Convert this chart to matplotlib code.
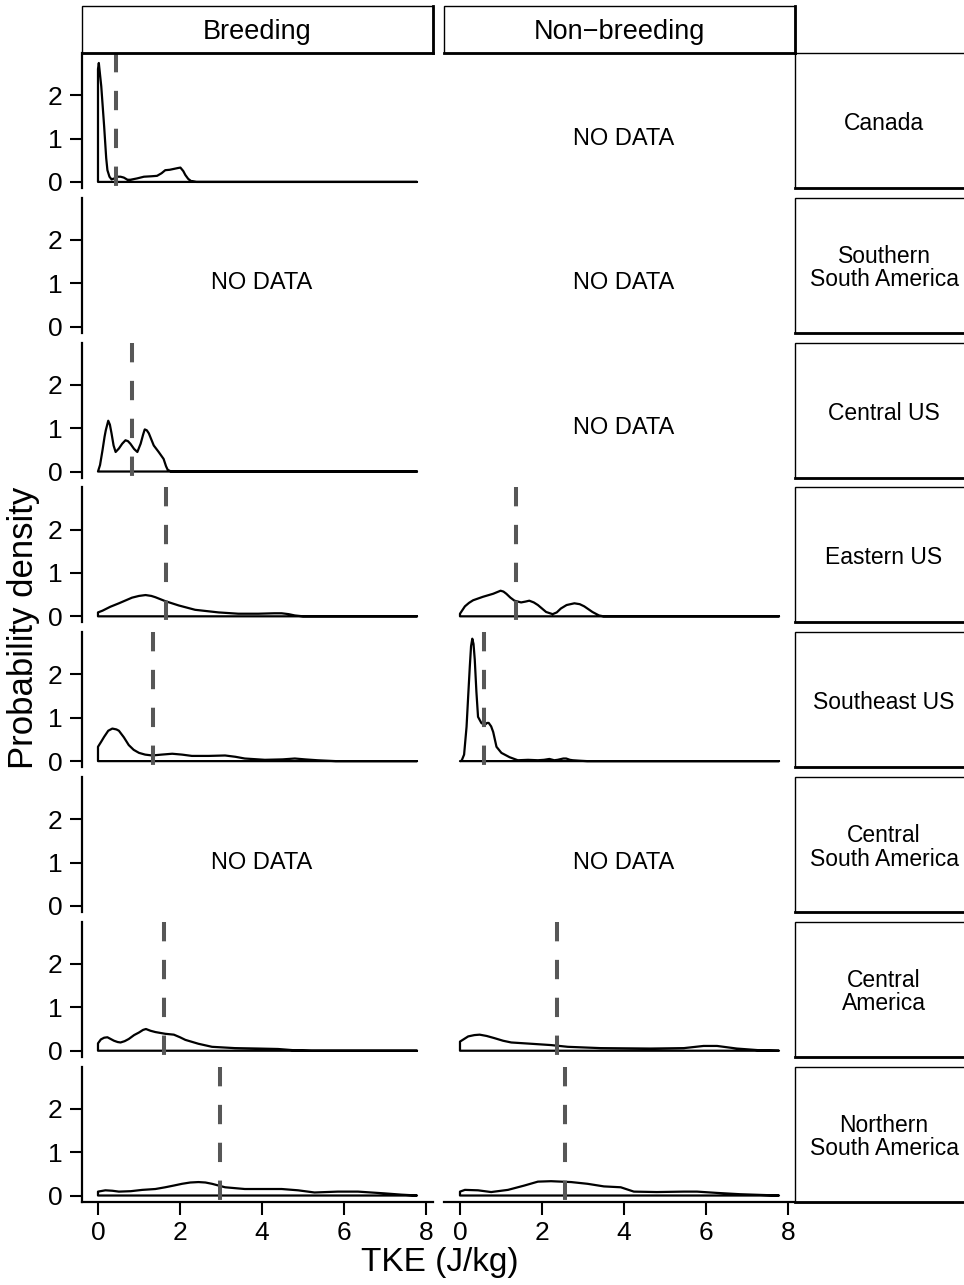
import matplotlib.pyplot as plt
from matplotlib.patches import Rectangle
from matplotlib.lines import Line2D

plt.rcParams['font.family'] = ['Liberation Sans', 'DejaVu Sans']

seasons = ['Breeding', 'Non\u2212breeding']
regions = ['Canada', 'Southern\nSouth America', 'Central US', 'Eastern US',
           'Southeast US', 'Central\nSouth America', 'Central\nAmerica',
           'Northern\nSouth America']

# kernel density outlines of TKE (J/kg), read per region and season
canada_b_x = [0, 0.02, 0.08, 0.15, 0.20, 0.23, 0.28, 0.33, 0.40, 0.47, 0.55, 0.63, 0.72, 0.79,
              0.95, 1.12, 1.30, 1.44, 1.55, 1.64, 1.75, 1.85, 1.95, 2.01, 2.08, 2.13, 2.20,
              2.27, 2.40, 7.78]
canada_b_y = [2.6, 2.74, 2.2, 1.28, 0.55, 0.27, 0.12, 0.06, 0.08, 0.12, 0.12, 0.10, 0.05, 0.05,
              0.08, 0.12, 0.13, 0.14, 0.20, 0.27, 0.28, 0.30, 0.32, 0.33, 0.25, 0.16, 0.07,
              0.02, 0.0, 0.0]

central_us_b_x = [0, 0.05, 0.11, 0.16, 0.19, 0.25, 0.29, 0.33, 0.38, 0.43, 0.51, 0.59, 0.67,
                  0.73, 0.79, 0.88, 0.96, 1.04, 1.10, 1.14, 1.19, 1.24, 1.36, 1.48, 1.60, 1.66,
                  1.70, 1.78, 7.78]
central_us_b_y = [0, 0.15, 0.49, 0.80, 0.95, 1.17, 1.08, 0.88, 0.60, 0.45, 0.53, 0.64, 0.72,
                  0.70, 0.64, 0.52, 0.45, 0.64, 0.85, 0.97, 0.95, 0.88, 0.60, 0.45, 0.29, 0.12,
                  0.04, 0.0, 0.0]

eastern_b_x = [0, 0.11, 0.30, 0.51, 0.83, 1.00, 1.16, 1.30, 1.40, 1.64, 1.97, 2.37, 2.94, 3.42,
               3.91, 4.30, 4.48, 4.65, 4.80, 5.00, 7.78]
eastern_b_y = [0.09, 0.13, 0.22, 0.30, 0.43, 0.47, 0.49, 0.47, 0.44, 0.35, 0.25, 0.15, 0.09, 0.06,
               0.06, 0.07, 0.07, 0.05, 0.02, 0.0, 0.0]

eastern_nb_x = [0, 0.12, 0.22, 0.32, 0.56, 0.81, 0.99, 1.06, 1.13, 1.23, 1.33, 1.49, 1.60, 1.69,
                1.80, 1.90, 2.10, 2.26, 2.36, 2.46, 2.60, 2.79, 2.92, 3.03, 3.23, 3.39, 3.50, 7.78]
eastern_nb_y = [0.06, 0.23, 0.31, 0.37, 0.45, 0.52, 0.59, 0.57, 0.52, 0.43, 0.36, 0.32, 0.34, 0.36,
                0.32, 0.26, 0.10, 0.05, 0.09, 0.18, 0.26, 0.30, 0.28, 0.23, 0.10, 0.02, 0.0, 0.0]

southeast_b_x = [0, 0.08, 0.15, 0.25, 0.35, 0.45, 0.51, 0.63, 0.75, 0.87, 1.00, 1.15, 1.32, 1.55,
                 1.81, 2.05, 2.29, 2.70, 3.10, 3.35, 3.58, 4.07, 4.50, 4.80, 5.05, 5.35, 5.80, 7.78]
southeast_b_y = [0.33, 0.45, 0.56, 0.70, 0.75, 0.73, 0.70, 0.55, 0.37, 0.26, 0.19, 0.15, 0.13, 0.15,
                 0.17, 0.15, 0.12, 0.12, 0.13, 0.10, 0.06, 0.03, 0.04, 0.06, 0.04, 0.02, 0.0, 0.0]

southeast_nb_x = [0, 0.04, 0.10, 0.16, 0.20, 0.24, 0.27, 0.30, 0.33, 0.36, 0.40, 0.44, 0.52, 0.60,
                  0.66, 0.70, 0.76, 0.81, 0.89, 1.01, 1.21, 1.41, 1.66, 1.90, 2.05, 2.18, 2.30,
                  2.38, 2.52, 2.59, 2.68, 2.75, 2.91, 3.10, 7.78]
southeast_nb_y = [0, 0.01, 0.15, 0.79, 1.50, 2.19, 2.65, 2.82, 2.70, 2.34, 1.60, 1.02, 0.88, 0.83,
                  0.88, 0.88, 0.80, 0.67, 0.33, 0.19, 0.09, 0.02, 0.03, 0.02, 0.03, 0.05, 0.02,
                  0.03, 0.06, 0.06, 0.03, 0.02, 0.01, 0.0, 0.0]

camerica_b_x = [0, 0.07, 0.15, 0.23, 0.31, 0.39, 0.48, 0.55, 0.65, 0.75, 0.88, 1.00, 1.10, 1.17,
                1.28, 1.40, 1.64, 1.85, 2.00, 2.13, 2.45, 2.78, 3.34, 3.91, 4.39, 4.80, 5.20, 7.78]
camerica_b_y = [0.17, 0.26, 0.30, 0.31, 0.27, 0.23, 0.20, 0.19, 0.22, 0.27, 0.36, 0.42, 0.48, 0.50,
                0.46, 0.43, 0.39, 0.37, 0.31, 0.25, 0.16, 0.09, 0.06, 0.05, 0.04, 0.01, 0.0, 0.0]

camerica_nb_x = [0, 0.20, 0.35, 0.48, 0.65, 0.84, 1.05, 1.25, 1.74, 2.22, 2.63, 3.43, 4.65, 5.46,
                 5.94, 6.27, 6.75, 7.32, 7.78]
camerica_nb_y = [0.21, 0.33, 0.36, 0.37, 0.34, 0.29, 0.23, 0.19, 0.16, 0.13, 0.09, 0.06, 0.05, 0.06,
                 0.11, 0.11, 0.05, 0.01, 0.0]

nsa_b_x = [0, 0.18, 0.35, 0.51, 0.80, 1.08, 1.40, 1.64, 1.85, 2.05, 2.25, 2.45, 2.62, 2.78, 3.10,
           3.58, 4.00, 4.48, 4.88, 5.28, 5.85, 6.34, 6.98, 7.40, 7.78]
nsa_b_y = [0.09, 0.12, 0.11, 0.09, 0.10, 0.13, 0.15, 0.19, 0.23, 0.27, 0.30, 0.31, 0.30, 0.27, 0.19,
           0.15, 0.15, 0.15, 0.12, 0.07, 0.09, 0.09, 0.05, 0.02, 0.0]

nsa_nb_x = [0, 0.12, 0.44, 0.76, 1.17, 1.57, 1.90, 2.22, 2.71, 3.11, 3.51, 3.92, 4.24, 4.80, 5.46,
            5.78, 6.27, 6.83, 7.78]
nsa_nb_y = [0.09, 0.13, 0.12, 0.08, 0.13, 0.23, 0.32, 0.33, 0.31, 0.27, 0.21, 0.19, 0.09, 0.08, 0.09,
            0.09, 0.06, 0.03, 0.0]

# mean TKE per panel (dashed lines)
mean_tke = {
    (0, 0): 0.44,
    (2, 0): 0.83,
    (3, 0): 1.65, (3, 1): 1.36,
    (4, 0): 1.34, (4, 1): 0.58,
    (6, 0): 1.60, (6, 1): 2.37,
    (7, 0): 2.98, (7, 1): 2.56,
}

curves = {
    (0, 0): (canada_b_x, canada_b_y),
    (2, 0): (central_us_b_x, central_us_b_y),
    (3, 0): (eastern_b_x, eastern_b_y),
    (3, 1): (eastern_nb_x, eastern_nb_y),
    (4, 0): (southeast_b_x, southeast_b_y),
    (4, 1): (southeast_nb_x, southeast_nb_y),
    (6, 0): (camerica_b_x, camerica_b_y),
    (6, 1): (camerica_nb_x, camerica_nb_y),
    (7, 0): (nsa_b_x, nsa_b_y),
    (7, 1): (nsa_nb_x, nsa_nb_y),
}

W, H = 964, 1285
fig = plt.figure(figsize=(W / 100, H / 100), dpi=100)


def fx(px):
    return px / W


def fy(py):
    return 1 - py / H


def strip_box(x0, y0, x1, y1):
    fig.add_artist(Rectangle((fx(x0), fy(y1)), fx(x1) - fx(x0), fy(y0) - fy(y1),
                             transform=fig.transFigure, facecolor='white',
                             edgecolor='black', lw=1.0, clip_on=False))
    # heavier bottom and right edge
    fig.add_artist(Line2D([fx(x0), fx(x1)], [fy(y1), fy(y1)], transform=fig.transFigure,
                          color='black', lw=2.0, clip_on=False))
    fig.add_artist(Line2D([fx(x1), fx(x1)], [fy(y0), fy(y1)], transform=fig.transFigure,
                          color='black', lw=2.0, clip_on=False))


col_left = [82, 444]
col_w = 351
row_top0 = 53
row_pitch = 144.8
row_h = 135
xlim = (-0.39, 8.17)
ylim = (-0.14, 2.97)

for i, region in enumerate(regions):
    top = row_top0 + i * row_pitch
    for j, season in enumerate(seasons):
        ax = fig.add_axes([fx(col_left[j]), fy(top + row_h), col_w / W, row_h / H])
        ax.set_xlim(*xlim)
        ax.set_ylim(*ylim)
        for s in ax.spines.values():
            s.set_visible(False)

        if (i, j) in curves:
            x, y = curves[(i, j)]
            px = [x[0]] + list(x) + [x[-1]]
            py = [0] + list(y) + [0]
            ax.fill(px, py, facecolor='none', edgecolor='black', lw=1.6, joinstyle='round')
            m = mean_tke[(i, j)]
            ax.plot([m, m], [ylim[1], ylim[0]], color='#575757', lw=2.9,
                    linestyle=(0, (4.8, 4.6)))
        else:
            ax.text(4, 1, 'NO DATA', ha='center', va='center', fontsize=17)

        if j == 0:
            ax.spines['left'].set_visible(True)
            ax.spines['left'].set_linewidth(1.6)
            ax.set_yticks([0, 1, 2])
            ax.tick_params(axis='y', length=9, width=1.5, pad=5, labelsize=19)
        else:
            ax.set_yticks([])

        if i == len(regions) - 1:
            ax.spines['bottom'].set_visible(True)
            ax.spines['bottom'].set_linewidth(1.6)
            ax.set_xticks([0, 2, 4, 6, 8])
            ax.tick_params(axis='x', length=9, width=1.5, pad=5, labelsize=19)
        else:
            ax.set_xticks([])

        if i == 0:
            strip_box(col_left[j], 6, col_left[j] + col_w, top)
            fig.text(fx(col_left[j] + col_w / 2), fy(32), season,
                     ha='center', va='center', fontsize=19.5)

    strip_box(795, top, 975, top + row_h)
    fig.text(fx(884), fy(top + row_h / 2 + 3), region, ha='center', va='center',
             fontsize=16.5, linespacing=1.0)

fig.text(fx(24), fy(628), 'Probability density', rotation=90,
         ha='center', va='center', fontsize=25)
fig.text(fx(440), fy(1263), 'TKE (J/kg)', ha='center', va='center', fontsize=24)

fig.savefig('out.png', dpi=100, facecolor='white')
